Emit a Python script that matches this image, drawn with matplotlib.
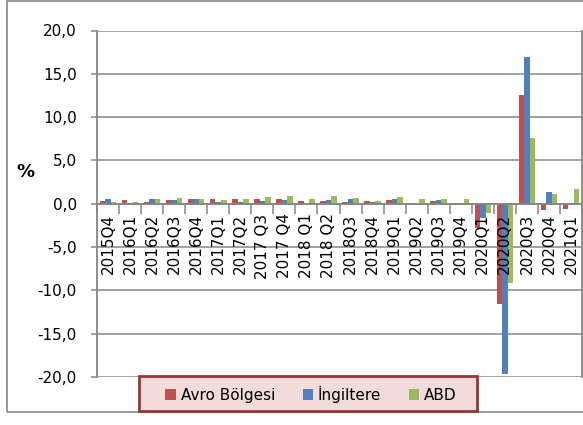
import matplotlib
matplotlib.use("Agg")
import matplotlib.pyplot as plt
import numpy as np
from matplotlib.patches import Rectangle

categories = ["2015Q4", "2016Q1", "2016Q2", "2016Q3", "2016Q4", "2017Q1", "2017Q2",
              "2017 Q3", "2017 Q4", "2018 Q1", "2018 Q2", "2018Q3", "2018Q4", "2019Q1",
              "2019Q2", "2019Q3", "2019Q4", "2020Q1", "2020Q2", "2020Q3", "2020Q4", "2021Q1"]
avro = [0.35, 0.45, 0.25, 0.4, 0.6, 0.5, 0.6, 0.6, 0.6, 0.3, 0.3, 0.2, 0.3, 0.4, 0.1, 0.3,
        0.05, -2.8, -11.6, 12.5, -0.7, -0.6]
ingiltere = [0.6, 0.1, 0.5, 0.4, 0.6, 0.25, 0.2, 0.35, 0.4, 0.1, 0.4, 0.6, 0.2, 0.6, -0.05,
             0.4, 0.0, -1.7, -19.6, 16.9, 1.3, np.nan]
abd = [0.15, 0.2, 0.6, 0.7, 0.5, 0.4, 0.55, 0.8, 0.9, 0.6, 0.9, 0.7, 0.3, 0.8, 0.5, 0.6,
       0.6, -1.1, -9.2, 7.6, 1.1, 1.7]
series_names = ["Avro Bölgesi", "İngiltere", "ABD"]
yticks = [-20, -15, -10, -5, 0, 5, 10, 15, 20]

colors = ["#C0504D", "#4F81BD", "#9BBB59"]
grid_c = "#868686"

plt.rcParams['font.family'] = ['DejaVu Sans']

W, H = 583, 425
fig = plt.figure(figsize=(W / 100, H / 100), dpi=100)
# outer frame
fig.patches.append(Rectangle((7 / W, 1 - 412 / H), 1.0, 411 / H,
                             transform=fig.transFigure, fill=False,
                             edgecolor=grid_c, linewidth=1.2, zorder=0))

ax = fig.add_axes([97 / W, 1 - 377 / H, 485 / W, 346.5 / H])
x = np.arange(len(categories))
w = 0.25
handles = []
for i, (vals, c) in enumerate(zip([avro, ingiltere, abd], colors)):
    h = ax.bar(x + (i - 1) * w, vals, width=w, color=c, zorder=1, label=series_names[i])
    handles.append(h)

for yv in yticks:
    ax.axhline(yv, color=grid_c, linewidth=1.1, zorder=0)

ax.set_xlim(-0.5, len(categories) - 0.5)
ax.set_ylim(-20, 20)
ax.set_yticks(yticks)
ax.set_yticklabels([f"{v:.1f}".replace(".", ",") for v in yticks], fontsize=11)
ax.tick_params(axis='y', length=4.5, width=1.1, color=grid_c, pad=10)

ax.spines['bottom'].set_position(('data', 0))
ax.spines['top'].set_visible(False)
for s in ['left', 'right', 'bottom']:
    ax.spines[s].set_color(grid_c)
    ax.spines[s].set_linewidth(1.3)

ax.set_xticks(x)
ax.set_xticklabels(categories, rotation=90, fontsize=11, va='top', ha='center')
ax.set_xticks(np.arange(-0.5, len(categories), 1.0), minor=True)
ax.tick_params(axis='x', which='major', length=0, pad=7)
ax.tick_params(axis='x', which='minor', length=7, width=1.1, color=grid_c, direction='out')

fig.text(25 / W, 1 - 172 / H, "%", fontsize=13, fontweight='bold', ha='center', va='center')

# legend box
fig.patches.append(Rectangle((139 / W, 1 - 411 / H), (477 - 139) / W, (411 - 376) / H,
                             transform=fig.transFigure, facecolor="#F2DCDB",
                             edgecolor="#953735", linewidth=2, zorder=3))
leg = fig.legend(handles=handles, labels=series_names, loc='center',
                 bbox_to_anchor=(311 / W, 1 - 394 / H), ncol=3, fontsize=11,
                 frameon=False, handlelength=0.7, handleheight=0.7,
                 handletextpad=0.3, columnspacing=1.8, borderpad=0.2)
leg.set_zorder(4)

fig.savefig("out.png", dpi=100)
